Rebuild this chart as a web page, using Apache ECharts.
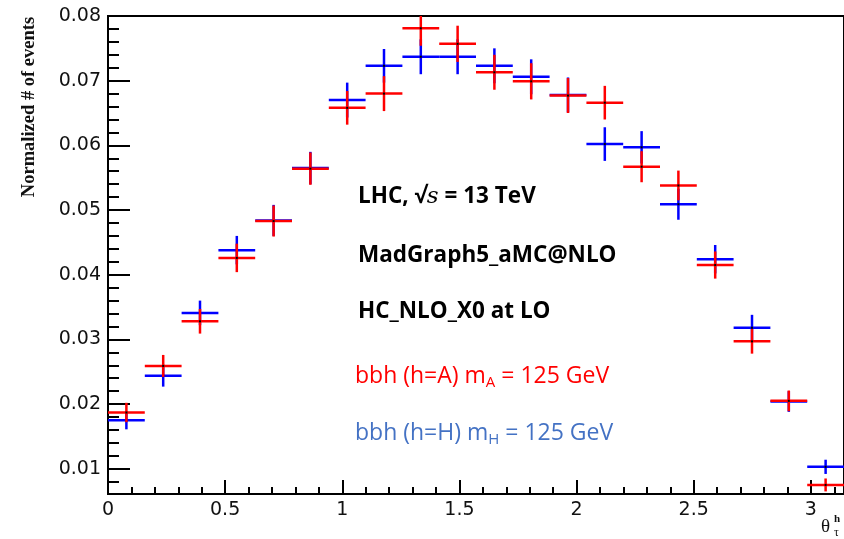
<!DOCTYPE html>
<html>
<head>
<meta charset="utf-8">
<script src="https://cdn.jsdelivr.net/npm/echarts@6/dist/echarts.min.js"></script>
<style>
  html, body { margin: 0; padding: 0; background: #fff; }
  #main { width: 844px; height: 539px; }
</style>
</head>
<body>
<div id="main"></div>
<script>
  // theta bins (20 bins over 0..pi)
  const binCenters = [0.0785, 0.2356, 0.3927, 0.5498, 0.7069, 0.8639, 1.0210, 1.1781, 1.3352, 1.4923,
                      1.6493, 1.8064, 1.9635, 2.1206, 2.2777, 2.4347, 2.5918, 2.7489, 2.9060, 3.0631];
  const binHalfWidth = 0.0785;

  // bbh (h=A), red
  const valuesA = [0.0187, 0.0259, 0.0328, 0.0426, 0.0483, 0.0564, 0.0658, 0.0680, 0.0781, 0.0757,
                   0.0713, 0.0699, 0.0677, 0.0666, 0.0567, 0.0538, 0.0415, 0.0297, 0.0205, 0.0075];
  const errorsA = [0.0015, 0.0017, 0.0019, 0.0022, 0.0024, 0.0025, 0.0026, 0.0027, 0.0027, 0.0028,
                   0.0027, 0.0028, 0.0027, 0.0026, 0.0024, 0.0023, 0.0021, 0.0019, 0.0016, 0.0010];
  // bbh (h=H), blue
  const valuesH = [0.0175, 0.0244, 0.0341, 0.0438, 0.0484, 0.0565, 0.0670, 0.0723, 0.0737, 0.0737,
                   0.0723, 0.0706, 0.0678, 0.0602, 0.0597, 0.0509, 0.0424, 0.0318, 0.0204, 0.0103];
  const errorsH = [0.0014, 0.0017, 0.0019, 0.0022, 0.0024, 0.0025, 0.0027, 0.0026, 0.0027, 0.0027,
                   0.0027, 0.0027, 0.0027, 0.0026, 0.0025, 0.0024, 0.0022, 0.0020, 0.0016, 0.0011];

  const yTicks = [0.01, 0.02, 0.03, 0.04, 0.05, 0.06, 0.07, 0.08];
  const xTicks = [0, 0.5, 1, 1.5, 2, 2.5, 3];
  const yMin = 0.0061, yMax = 0.08;

  // minor ticks, ROOT style (5 divisions)
  const yMinor = [];
  for (let i = 4; i < 40; i++) { if (i % 5 !== 0) yMinor.push(+(i * 0.002).toFixed(3)); }
  const xMinor = [];
  for (let i = 1; i <= 31; i++) { if (i % 5 !== 0) xMinor.push(+(i * 0.1).toFixed(1)); }

  var chart = echarts.init(document.getElementById('main'));

  function crossItem(color) {
    return function (params, api) {
      const x = api.value(0), y = api.value(1), e = api.value(2);
      const cs = params.coordSys;
      const clampY = p => Math.max(cs.y, Math.min(cs.y + cs.height, p));
      const l = api.coord([x - binHalfWidth, y]);
      const r = api.coord([x + binHalfWidth, y]);
      const up = api.coord([x, y + e]);
      const dn = api.coord([x, y - e]);
      const c = api.coord([x, y]);
      const style = { stroke: color, lineWidth: 2.5 };
      return {
        type: 'group',
        children: [
          { type: 'line', shape: { x1: l[0], y1: l[1], x2: r[0], y2: r[1] }, style: style },
          { type: 'line', shape: { x1: up[0], y1: clampY(up[1]), x2: dn[0], y2: clampY(dn[1]) }, style: style },
          { type: 'rect', shape: { x: c[0] - 1, y: c[1] - 1, width: 2, height: 2 }, style: { fill: '#000' } }
        ]
      };
    };
  }

  const tickLine = { color: '#000', width: 2 };

  var option = {
    animation: false,
    grid: {
      left: 108, top: 16, width: 740, bottom: 45,
      show: true, borderColor: '#000', borderWidth: 2, backgroundColor: 'transparent'
    },
    xAxis: [{
      type: 'value', min: 0, max: Math.PI,
      axisLine: { onZero: false, lineStyle: tickLine },
      axisTick: { inside: true, length: 14, lineStyle: tickLine, customValues: xTicks },
      axisLabel: {
        customValues: xTicks, color: '#111', fontFamily: 'DejaVu Sans', fontSize: 19, margin: 7
      },
      splitLine: { show: false }
    }, {
      type: 'value', min: 0, max: Math.PI, position: 'bottom',
      axisLine: { show: false },
      axisTick: { inside: true, length: 7, lineStyle: tickLine, customValues: xMinor },
      axisLabel: { show: false },
      splitLine: { show: false }
    }],
    yAxis: [{
      type: 'value', min: yMin, max: yMax,
      axisLine: { show: true, lineStyle: tickLine },
      axisTick: { show: true, inside: true, length: 22, lineStyle: tickLine, customValues: yTicks },
      axisLabel: {
        customValues: yTicks, formatter: v => v.toFixed(2),
        color: '#111', fontFamily: 'DejaVu Sans', fontSize: 19, margin: 7
      },
      splitLine: { show: false }
    }, {
      type: 'value', min: yMin, max: yMax, position: 'left',
      axisLine: { show: false },
      axisTick: { show: true, inside: true, length: 11, lineStyle: tickLine, customValues: yMinor },
      axisLabel: { show: false },
      splitLine: { show: false }
    }],
    graphic: [
      {
        type: 'text', x: 29, y: 107, rotation: Math.PI / 2,
        style: {
          text: 'Normalized # of events', fontFamily: 'Liberation Serif', fontWeight: 'bold',
          fontSize: 18.5, fill: '#111', align: 'center', verticalAlign: 'middle'
        }
      },
      {
        type: 'text', x: 821, y: 527,
        style: { text: 'θ', fontFamily: 'Liberation Serif', fontSize: 19, fill: '#111', verticalAlign: 'middle' }
      },
      {
        type: 'text', x: 834, y: 519,
        style: { text: 'h', fontFamily: 'Liberation Serif', fontWeight: 'bold', fontSize: 11, fill: '#111', verticalAlign: 'middle' }
      },
      {
        type: 'text', x: 834, y: 533,
        style: { text: 'τ', fontFamily: 'Liberation Serif', fontSize: 12, fill: '#111', verticalAlign: 'middle' }
      },
      {
        type: 'text', x: 358, y: 197,
        style: {
          text: '{b|LHC, √}{s|s}{b| = 13 TeV}', verticalAlign: 'middle',
          rich: {
            b: { fontFamily: 'Open Sans', fontWeight: 'bold', fontSize: 22.5, fill: '#000' },
            s: { fontFamily: 'DejaVu Serif', fontStyle: 'italic', fontSize: 23, fill: '#000' }
          }
        }
      },
      {
        type: 'text', x: 358, y: 256,
        style: { text: 'MadGraph5_aMC@NLO', fontFamily: 'Open Sans', fontWeight: 'bold', fontSize: 22.5, fill: '#000', verticalAlign: 'middle' }
      },
      {
        type: 'text', x: 358, y: 312,
        style: { text: 'HC_NLO_X0 at LO', fontFamily: 'Open Sans', fontWeight: 'bold', fontSize: 22.5, fill: '#000', verticalAlign: 'middle' }
      },
      {
        type: 'text', x: 355, y: 376,
        style: {
          text: '{a|bbh (h=A) m}{s|A}{a| = 125 GeV}', verticalAlign: 'middle',
          rich: {
            a: { fontFamily: 'Open Sans', fontSize: 23, fill: '#ff0000', verticalAlign: 'bottom' },
            s: { fontFamily: 'Open Sans', fontSize: 15, fill: '#ff0000', verticalAlign: 'bottom', padding: [0, 0, -3, 0] }
          }
        }
      },
      {
        type: 'text', x: 355, y: 433,
        style: {
          text: '{a|bbh (h=H) m}{s|H}{a| = 125 GeV}', verticalAlign: 'middle',
          rich: {
            a: { fontFamily: 'Open Sans', fontSize: 23, fill: '#4472c4', verticalAlign: 'bottom' },
            s: { fontFamily: 'Open Sans', fontSize: 15, fill: '#4472c4', verticalAlign: 'bottom', padding: [0, 0, -3, 0] }
          }
        }
      }
    ],
    series: [
      {
        name: 'bbh (h=H)', type: 'custom', xAxisIndex: 0, yAxisIndex: 0,
        renderItem: crossItem('#0000ff'),
        data: binCenters.map((x, i) => [x, valuesH[i], errorsH[i]])
      },
      {
        name: 'bbh (h=A)', type: 'custom', xAxisIndex: 0, yAxisIndex: 0,
        renderItem: crossItem('#ff0000'),
        data: binCenters.map((x, i) => [x, valuesA[i], errorsA[i]])
      }
    ]
  };

  option && chart.setOption(option);

  window.addEventListener('resize', () => {
    chart.resize();
  });
</script>
</body>
</html>
